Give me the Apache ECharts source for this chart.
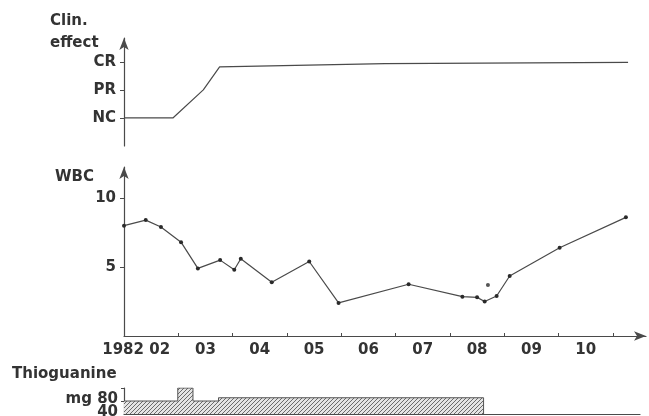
<!DOCTYPE html>
<html>
<head>
<meta charset="utf-8">
<script src="https://cdn.jsdelivr.net/npm/echarts@6/dist/echarts.min.js"></script>
<style>
  html, body { margin: 0; padding: 0; background: #fff; }
  #chart { width: 649px; height: 416px; }
</style>
</head>
<body>
<div id="chart"></div>
<script>
// x = months counted from start of Feb 1982
const monthLabels = ['1982 02', '03', '04', '05', '06', '07', '08', '09', '10'];

// clinical effect: 0 = NC, 1 = PR, 2 = CR
const effectLabels = ['NC', 'PR', 'CR'];
const effectX = [0, 0.9, 1.46, 1.76, 4.8, 9.28];
const effectY = [0, 0, 1, 1.82, 1.94, 1.98];

// white blood cells
const wbcTicks = [5, 10];
const wbcX = [0, 0.40, 0.68, 1.05, 1.36, 1.77, 2.03, 2.15, 2.72, 3.41, 3.95, 5.24, 6.23, 6.50, 6.64, 6.86, 7.10, 8.02, 9.24];
const wbcY = [8.0, 8.4, 7.9, 6.8, 4.9, 5.5, 4.8, 5.6, 3.9, 5.4, 2.4, 3.75, 2.85, 2.8, 2.5, 2.9, 4.35, 6.4, 8.6];
const wbcExtraX = [6.70];
const wbcExtraY = [3.7];

// thioguanine dose (mg), step changes
const doseTicks = [40, 80];
const doseTickLabels = ['40', 'mg 80'];
const doseX = [0, 0.99, 1.27, 1.74, 6.62];
const doseY = [40, 80, 40, 50, 0];

const pairs = (xs, ys) => xs.map((x, i) => [x, ys[i]]);

// hatch pattern for the dose area
const hatch = document.createElement('canvas');
hatch.width = hatch.height = 4;
const hc = hatch.getContext('2d');
hc.fillStyle = '#e4e4e4';
hc.fillRect(0, 0, 4, 4);
hc.strokeStyle = '#6a6a6a';
hc.lineWidth = 1;
hc.beginPath();
hc.moveTo(0, 4); hc.lineTo(4, 0);
hc.moveTo(-1, 1); hc.lineTo(1, -1);
hc.moveTo(3, 5); hc.lineTo(5, 3);
hc.stroke();

const ink = '#333';
const lineCol = '#4a4a4a';
const font = { fontFamily: 'DejaVu Sans', fontWeight: 'bold', fontSize: 15, color: ink };
const axisLine = { show: true, lineStyle: { color: lineCol, width: 1.2 } };
const arrowLine = Object.assign({}, axisLine, { symbol: ['none', 'arrow'], symbolSize: [7, 12] });

// one y axis per dose tick label, so the two close labels are both kept
const doseAxis = (i, showLine) => ({
  gridIndex: 2, type: 'value', min: 0, max: 80, position: 'left',
  axisLine: showLine ? axisLine : { show: false },
  axisTick: { show: true, length: 3, lineStyle: { color: lineCol }, customValues: [doseTicks[i]] },
  axisLabel: {
    margin: 6, customValues: [doseTicks[i]], verticalAlign: 'top', padding: [4, 0, 0, 0],
    formatter: () => doseTickLabels[i], ...font
  },
  splitLine: { show: false }
});

const chart = echarts.init(document.getElementById('chart'));
chart.setOption({
  animation: false,
  title: [
    { text: 'Clin.', left: 50, top: 14, padding: 0, textStyle: font },
    { text: 'effect', left: 50, top: 36, padding: 0, textStyle: font },
    { text: 'WBC', left: 55, top: 170, padding: 0, textStyle: font },
    { text: 'Thioguanine', left: 12, top: 367, padding: 0, textStyle: font }
  ],
  grid: [
    { left: 124, right: 3, top: 38, bottom: 270, outerBoundsMode: 'none' },
    { left: 124, right: 3, top: 167, bottom: 80, outerBoundsMode: 'none' },
    { left: 124, right: 9, top: 388, bottom: 2, outerBoundsMode: 'none' }
  ],
  xAxis: [
    { gridIndex: 0, type: 'value', min: 0, max: 9.61, show: false },
    {
      gridIndex: 1, type: 'value', min: 0, max: 9.61,
      axisLine: arrowLine,
      axisTick: { show: true, inside: true, length: 3, lineStyle: { color: lineCol },
        customValues: monthLabels.map((_, i) => i + 1) },
      axisLabel: {
        show: true, margin: 7,
        customValues: monthLabels.map((_, i) => i + 0.5),
        formatter: v => {
          const i = Math.floor(v);
          return i === 0 ? '{first|' + monthLabels[0] + '}' : monthLabels[i];
        },
        rich: { first: Object.assign({}, font, { padding: [0, 30, 0, 0] }) },
        ...font
      },
      splitLine: { show: false }
    },
    {
      gridIndex: 2, type: 'value', min: 0, max: 9.5,
      axisLine: axisLine, axisTick: { show: false }, axisLabel: { show: false },
      splitLine: { show: false }
    }
  ],
  yAxis: [
    {
      gridIndex: 0, type: 'value', min: -1, max: 2.85,
      axisLine: arrowLine,
      axisTick: { show: true, length: 4, lineStyle: { color: lineCol }, customValues: [0, 1, 2] },
      axisLabel: { margin: 8, customValues: [0, 1, 2], formatter: v => effectLabels[v] || '', ...font },
      splitLine: { show: false }
    },
    {
      gridIndex: 1, type: 'value', min: 0, max: 12.25,
      axisLine: arrowLine,
      axisTick: { show: true, length: 4, lineStyle: { color: lineCol }, customValues: wbcTicks },
      axisLabel: { margin: 8, customValues: wbcTicks, ...font },
      splitLine: { show: false }
    },
    doseAxis(1, true),
    doseAxis(0, false)
  ],
  series: [
    {
      name: 'Clin. effect', type: 'line', xAxisIndex: 0, yAxisIndex: 0,
      data: pairs(effectX, effectY), showSymbol: false,
      lineStyle: { color: lineCol, width: 1.2 }
    },
    {
      name: 'WBC', type: 'line', xAxisIndex: 1, yAxisIndex: 1,
      data: pairs(wbcX, wbcY), symbol: 'circle', symbolSize: 4,
      itemStyle: { color: '#2a2a2a' },
      lineStyle: { color: lineCol, width: 1.2 }
    },
    {
      name: 'WBC extra', type: 'scatter', xAxisIndex: 1, yAxisIndex: 1,
      data: pairs(wbcExtraX, wbcExtraY), symbol: 'circle', symbolSize: 4,
      itemStyle: { color: '#2a2a2a' }
    },
    {
      name: 'Thioguanine', type: 'line', xAxisIndex: 2, yAxisIndex: 2,
      data: pairs(doseX, doseY), step: 'end', showSymbol: false,
      lineStyle: { color: '#555', width: 1 },
      areaStyle: { color: { image: hatch, repeat: 'repeat' }, opacity: 1 }
    }
  ]
});
</script>
</body>
</html>
